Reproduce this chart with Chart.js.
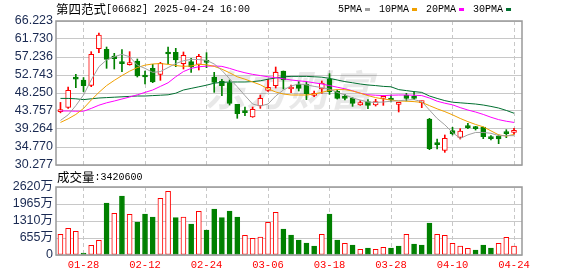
<!DOCTYPE html>
<html>
<head>
<meta charset="utf-8">
<script src="https://cdn.jsdelivr.net/npm/chart.js@4.4.0/dist/chart.umd.min.js"></script>
<style>
  html, body { margin: 0; padding: 0; background: #fff; }
  #wrap { position: relative; width: 578px; height: 276px; overflow: hidden; }
  canvas { position: absolute; left: 0; }
  #priceCv { top: 0; }
  #volCv { top: 170px; }
</style>
</head>
<body>
<div id="wrap">
  <canvas id="priceCv" width="578" height="185"></canvas>
  <canvas id="volCv" width="578" height="106"></canvas>
</div>
<script>
// =========================
// DADOS
// =========================
const dates = [
  "01-23","01-24","01-27","01-28","02-03","02-04","02-05","02-06","02-07","02-10",
  "02-11","02-12","02-13","02-14","02-17","02-18","02-19","02-20","02-21","02-24",
  "02-25","02-26","02-27","02-28","03-03","03-04","03-05","03-06","03-07","03-10",
  "03-11","03-12","03-13","03-14","03-17","03-18","03-19","03-20","03-21","03-24",
  "03-25","03-26","03-27","03-28","03-31","04-01","04-02","04-03","04-07","04-08",
  "04-09","04-10","04-11","04-14","04-15","04-16","04-17","04-22","04-23","04-24"
];

const opens = [
  43.6, 44.67, 52.1, 51.5, 50.16, 59.32, 59.15, 57.49, 55.82, 55.32,
  56.24, 52.74, 54.41, 52.91, 58.49, 58.4, 55.57, 56.07, 55.41, 56.24,
  52.24, 51.25, 50.83, 45.42, 43.59, 42.26, 45.0, 48.92, 50.08, 53.74,
  49.25, 50.41, 50.41, 47.67, 49.25, 51.75, 48.67, 47.25, 46.92, 45.25,
  46.09, 45.25, 46.9, 46.92, 45.42, 47.67, 47.34, 45.84, 41.76, 35.6,
  33.94, 38.85, 37.18, 40.1, 39.76, 39.76, 37.1, 37.43, 38.35, 38.43
];
const highs = [
  45.9, 49.75, 52.9, 52.1, 58.57, 63.23, 59.73, 58.15, 59.07, 58.57,
  56.74, 53.74, 55.41, 55.91, 59.73, 59.4, 58.49, 56.9, 57.9, 58.32,
  53.41, 51.66, 51.5, 45.42, 44.75, 44.75, 47.75, 51.66, 54.74, 53.74,
  50.25, 51.08, 51.08, 48.75, 51.25, 53.08, 49.0, 47.92, 47.09, 46.34,
  46.59, 46.67, 47.58, 47.75, 45.92, 48.17, 48.58, 46.25, 41.93, 36.77,
  37.77, 39.68, 39.35, 40.68, 39.93, 39.76, 37.6, 37.77, 39.1, 39.43
];
const lows = [
  43.3, 44.42, 49.6, 48.6, 49.83, 58.32, 54.41, 54.24, 53.57, 55.2,
  52.24, 50.5, 50.83, 51.41, 55.49, 54.82, 54.24, 53.41, 53.99, 54.57,
  48.42, 47.58, 45.25, 41.93, 42.59, 42.17, 44.42, 48.67, 49.5, 49.25,
  48.33, 48.75, 46.59, 47.33, 48.17, 47.92, 46.75, 46.5, 44.92, 45.17,
  44.34, 45.0, 45.17, 46.0, 43.51, 46.25, 46.59, 44.59, 34.1, 34.27,
  33.44, 37.77, 36.77, 39.35, 39.0, 36.85, 36.52, 35.6, 37.1, 38.0
];
const closes = [
  43.9, 48.92, 51.7, 50.1, 57.9, 62.73, 56.65, 56.82, 55.57, 55.49,
  52.49, 52.24, 51.0, 55.66, 57.99, 56.49, 57.65, 54.74, 57.4, 55.91,
  50.91, 50.08, 45.67, 43.09, 43.34, 44.17, 46.92, 49.66, 53.41, 51.5,
  49.58, 49.42, 48.08, 48.0, 50.75, 48.58, 46.92, 46.92, 45.67, 45.84,
  45.17, 46.09, 47.1, 46.5, 45.59, 46.92, 46.92, 46.09, 34.35, 35.35,
  36.93, 38.1, 38.76, 39.6, 39.35, 37.35, 36.85, 36.77, 38.1, 38.85
];

// médias móveis
const ma5 = [
  41.4, 42.8, 45.1, 47.75, 51.5, 54.8, 56.5, 57.3, 57.9, 57.3,
  55.2, 54.4, 53.4, 53.6, 54.6, 55.6, 56.3, 56.65, 56.6, 56.4,
  55.5, 53.9, 51.8, 49.8, 47.6, 45.5, 45.0, 45.5, 47.5, 49.0,
  50.0, 50.5, 50.3, 49.9, 49.6, 49.2, 48.4, 47.8, 47.0, 46.5,
  46.0, 45.9, 46.0, 46.2, 46.3, 46.5, 46.6, 46.1, 44.0, 41.9,
  40.3, 38.4, 36.9, 37.8, 38.4, 38.4, 38.2, 37.6, 37.6, 37.6
];
const ma10 = [
  40.9, 41.8, 42.9, 44.4, 46.5, 48.4, 50.1, 51.4, 52.6, 53.7,
  54.6, 55.2, 55.5, 55.6, 55.4, 55.1, 54.9, 55.0, 55.4, 55.3,
  54.9, 54.2, 53.3, 52.3, 51.7, 51.0, 50.3, 49.3, 48.5, 48.0,
  47.75, 47.75, 47.75, 48.0, 48.4, 48.9, 49.1, 49.1, 48.75, 48.2,
  47.6, 47.1, 46.75, 46.5, 46.25, 46.2, 46.1, 45.9, 45.1, 44.3,
  43.6, 42.8, 41.9, 41.1, 40.4, 39.8, 38.8, 37.8, 37.5, 37.9
];
const ma20 = [
  43.76, 43.76, 43.7, 43.7, 44.4, 45.2, 45.8, 46.25, 46.75, 47.25,
  47.8, 48.4, 49.0, 49.9, 50.8, 52.3, 53.6, 54.4, 54.8, 54.95,
  55.0, 54.9, 54.4, 53.8, 53.3, 52.9, 52.6, 52.3, 52.1, 51.8,
  51.5, 51.3, 51.1, 50.8, 50.5, 50.1, 49.7, 49.3, 48.8, 48.2,
  47.8, 47.7, 47.6, 47.7, 47.75, 47.75, 47.7, 47.6, 47.0, 46.2,
  45.7, 45.3, 44.6, 44.0, 43.5, 42.9, 42.2, 41.6, 41.2, 40.9
];
const ma30 = [
  46.9, 46.9, 46.8, 46.6, 46.8, 47.0, 47.1, 47.2, 47.3, 47.4,
  47.5, 47.5, 47.6, 47.7, 47.8, 48.2, 49.0, 49.4, 49.8, 50.2,
  50.7, 50.9, 51.0, 51.0, 51.0, 51.1, 51.3, 51.7, 52.0, 52.3,
  52.4, 52.4, 52.4, 52.3, 52.2, 51.9, 51.5, 51.1, 50.8, 50.5,
  50.25, 50.1, 49.9, 49.8, 49.1, 48.85, 48.6, 48.4, 47.5, 46.9,
  46.35, 45.95, 45.8, 45.65, 45.5, 45.25, 44.9, 44.5, 43.9, 43.2
];

// volume em 万 (10 mil ações)
const volumes = [
  797, 1028, 912, 77, 372, 565, 2003, 1605, 2273, 1567,
  1271, 1580, 1464, 2183, 2453, 1438, 1464, 1194, 1683, 963,
  1772, 1438, 1695, 1464, 758, 642, 694, 1259, 1644, 1002,
  771, 578, 462, 347, 797, 1580, 578, 450, 385, 218,
  270, 218, 295, 270, 347, 797, 424, 385, 1233, 797,
  758, 450, 347, 257, 193, 385, 270, 450, 681, 342.06
];
// 1 = subiu em relação ao fechamento anterior (vermelho)
const volUp = [
  1, 1, 1, 0, 1, 1, 0, 1, 0, 1,
  0, 0, 0, 1, 1, 0, 1, 0, 1, 0,
  0, 0, 0, 0, 1, 1, 1, 1, 1, 0,
  0, 0, 0, 0, 1, 0, 0, 1, 0, 1,
  0, 1, 1, 0, 0, 1, 0, 0, 0, 1,
  1, 1, 1, 1, 0, 0, 0, 1, 1, 1
];

const priceTicks = [30.277, 34.770, 39.264, 43.757, 48.250, 52.743, 57.236, 61.730, 66.223];
const volTicks = [0, 655, 1310, 1965, 2620];
const dateTickIdx = [3, 11, 19, 27, 35, 43, 51, 59];

const maNames = ["5PMA", "10PMA", "20PMA", "30PMA"];
const maColors = ["#a0a0a0", "#f0a000", "#ff00ff", "#006f30"];

const titleName = "第四范式";
const titleRest = "[06682] 2025-04-24 16:00";

// =========================
// ESTILO
// =========================
const RED = "#ff0000";
const GREEN = "#008000";
const AXIS_TXT = "#1a2a52";
const GRID = "#c8c8c8";
const CJK = "12.5px 'Noto Sans CJK SC'";
const MONO = "10px 'Liberation Mono'";

const candleUp = closes.map((c, i) => c >= opens[i]);

// desenha texto misto (CJK + ASCII)
function drawRun(ctx, parts, x, y) {
  ctx.textBaseline = "middle";
  ctx.textAlign = "left";
  parts.forEach(p => {
    ctx.font = p.font;
    ctx.fillStyle = p.color || "#000";
    ctx.fillText(p.text, x, y);
    x += ctx.measureText(p.text).width;
  });
  return x;
}

const frame = {
  id: "frame",
  afterDraw(chart) {
    const a = chart.chartArea;
    const ctx = chart.ctx;
    ctx.save();
    ctx.strokeStyle = "#999";
    ctx.lineWidth = 1.5;
    ctx.strokeRect(a.left, a.top, a.right - a.left, a.bottom - a.top);
    ctx.restore();
  }
};

const priceText = {
  id: "priceText",
  beforeDatasetsDraw(chart) {
    const ctx = chart.ctx;
    ctx.save();
    ctx.font = "italic bold 42px 'Noto Sans CJK SC'";
    ctx.fillStyle = "rgba(0,0,0,0.09)";
    ctx.textAlign = "center";
    ctx.textBaseline = "middle";
    ctx.fillText("东方财富", 288, 90);
    ctx.restore();
  },
  afterDraw(chart) {
    const ctx = chart.ctx;
    ctx.save();
    drawRun(ctx, [{ text: titleName, font: CJK }, { text: titleRest, font: MONO }], 56, 9);
    let x = 338;
    maNames.forEach((n, i) => {
      x = drawRun(ctx, [{ text: n, font: MONO }], x, 9);
      ctx.fillStyle = maColors[i];
      ctx.fillRect(x + 3, 8, 5, 3);
      x += 3 + 5 + 9;
    });
    ctx.restore();
  }
};

const volText = {
  id: "volText",
  afterDraw(chart) {
    const ctx = chart.ctx;
    ctx.save();
    const shares = Math.round(volumes[volumes.length - 1] * 10000);
    drawRun(ctx, [{ text: "成交量", font: CJK }, { text: ":" + shares, font: MONO }], 57, 7.5);
    ctx.restore();
  }
};

function xScale(showLabels) {
  return {
    type: "linear",
    min: -0.58,
    max: 60.04,
    offset: false,
    grid: { color: GRID, drawTicks: false, offset: false },
    border: { display: false, dash: [4, 3] },
    ticks: {
      display: showLabels,
      autoSkip: false,
      maxRotation: 0,
      padding: 4,
      color: RED,
      font: { family: "'Liberation Mono'", size: 10.5 },
      callback: v => dates[v] || ""
    },
    afterBuildTicks: s => { s.ticks = dateTickIdx.map(v => ({ value: v })); },
    afterFit: s => { s.height = showLabels ? 14 : 0; }
  };
}

// =========================
// GRÁFICO DE PREÇO
// =========================
new Chart(document.getElementById("priceCv"), {
  type: "bar",
  data: {
    datasets: [
      ...[ma5, ma10, ma20, ma30].map((arr, k) => ({
        type: "line",
        label: maNames[k],
        data: arr.map((v, i) => ({ x: i, y: v })),
        borderColor: maColors[k],
        borderWidth: 1,
        pointRadius: 0,
        tension: 0,
        order: 0
      })),
      {
        label: "corpo",
        data: dates.map((d, i) => ({ x: i, y: [Math.min(opens[i], closes[i]), Math.max(opens[i], closes[i])] })),
        backgroundColor: candleUp.map(u => u ? "#fff" : GREEN),
        borderColor: candleUp.map(u => u ? RED : GREEN),
        borderWidth: 1,
        borderSkipped: false,
        barThickness: 5,
        minBarLength: 2,
        grouped: false,
        order: 1
      },
      {
        label: "pavio",
        data: dates.map((d, i) => ({ x: i, y: [lows[i], highs[i]] })),
        backgroundColor: candleUp.map(u => u ? RED : GREEN),
        borderWidth: 0,
        barThickness: 1,
        grouped: false,
        order: 2
      }
    ]
  },
  options: {
    responsive: false,
    devicePixelRatio: 1,
    animation: false,
    layout: { padding: { top: 21, right: 56, bottom: 20, left: 0 } },
    plugins: { legend: { display: false }, tooltip: { enabled: false } },
    scales: {
      x: xScale(false),
      y: {
        min: priceTicks[0],
        max: priceTicks[priceTicks.length - 1],
        grid: { color: GRID, drawTicks: false },
        border: { display: false },
        ticks: {
          autoSkip: false,
          padding: 3,
          color: AXIS_TXT,
          font: { family: "'Liberation Sans'", size: 12.5 },
          callback: v => v.toFixed(3)
        },
        afterBuildTicks: s => { s.ticks = priceTicks.map(v => ({ value: v })); },
        afterFit: s => { s.width = 56; }
      }
    }
  },
  plugins: [priceText, frame]
});

// =========================
// GRÁFICO DE VOLUME
// =========================
new Chart(document.getElementById("volCv"), {
  type: "bar",
  data: {
    datasets: [{
      label: "成交量",
      data: volumes.map((v, i) => ({ x: i, y: v })),
      backgroundColor: volUp.map(u => u ? "#fff" : GREEN),
      borderColor: volUp.map(u => u ? RED : GREEN),
      borderWidth: 1,
      borderSkipped: false,
      barThickness: 5,
      grouped: false
    }]
  },
  options: {
    responsive: false,
    devicePixelRatio: 1,
    animation: false,
    layout: { padding: { top: 17, right: 56, bottom: 7, left: 0 } },
    plugins: { legend: { display: false }, tooltip: { enabled: false } },
    scales: {
      x: xScale(true),
      y: {
        min: 0,
        max: volTicks[volTicks.length - 1],
        grid: { color: GRID, drawTicks: false },
        border: { display: false },
        ticks: {
          autoSkip: false,
          padding: 3,
          color: AXIS_TXT,
          font: { family: "'Liberation Sans', 'Noto Sans CJK SC'", size: 12.5 },
          callback: v => v === 0 ? "0" : v + "万"
        },
        afterBuildTicks: s => { s.ticks = volTicks.map(v => ({ value: v })); },
        afterFit: s => { s.width = 56; }
      }
    }
  },
  plugins: [volText, frame]
});
</script>
</body>
</html>
